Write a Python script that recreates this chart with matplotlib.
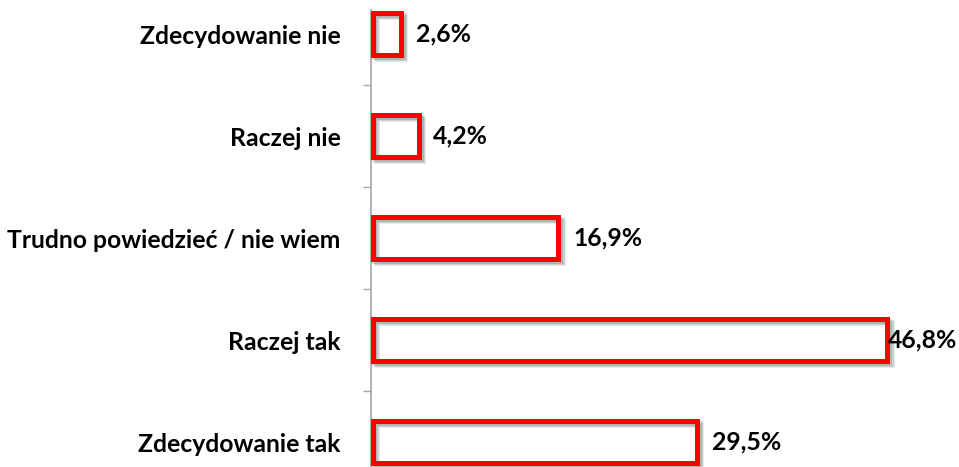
import matplotlib
matplotlib.use("Agg")
import matplotlib.pyplot as plt
import matplotlib.patheffects as pe

categories = ["Zdecydowanie nie", "Raczej nie", "Trudno powiedzieć / nie wiem",
              "Raczej tak", "Zdecydowanie tak"]
values = [2.6, 4.2, 16.9, 46.8, 29.5]
value_labels = ["2,6%", "4,2%", "16,9%", "46,8%", "29,5%"]

W, H = 959, 467
fig = plt.figure(figsize=(W / 100, H / 100), dpi=100)
fig.patch.set_facecolor("white")
ax = fig.add_axes([371 / W, 0, 1 - 371 / W, (H - 10) / H])

FONT = "Lato"
FS = 17.8
red = "#ff0000"
lw_px = 5.0
lw_pt = lw_px * 72 / 100

pos = list(range(len(categories)))
bars = ax.barh(pos, values, height=0.41, left=0, facecolor="none",
               edgecolor=red, linewidth=lw_pt, zorder=3)
for b in bars:
    b.set_joinstyle("miter")
    b.set_path_effects([
        pe.SimpleLineShadow(offset=(3.0, -3.0), shadow_color="#000000", alpha=0.08),
        pe.SimpleLineShadow(offset=(2.2, -2.2), shadow_color="#000000", alpha=0.12),
        pe.SimpleLineShadow(offset=(1.4, -1.4), shadow_color="#000000", alpha=0.12),
        pe.Normal(),
    ])

scale = (887.5 - 372.5) / 46.8  # px per unit
ax.set_xlim(-1.5 / scale, (W - 372.5) / scale)
ax.set_ylim((H - 34) / 102.0, (10 - 34) / 102.0)

ax.set_yticks(pos)
ax.set_yticklabels(categories, fontfamily=FONT, fontweight="bold", fontsize=FS,
                   color="black")
ax.set_yticks([p + 0.5 for p in pos[:-1]], minor=True)
ax.tick_params(axis="y", which="major", length=0, pad=22)
ax.tick_params(axis="y", which="minor", length=6, width=1, color="#a6a6a6")
ax.set_xticks([])
for s in ["top", "right", "bottom"]:
    ax.spines[s].set_visible(False)
ax.spines["left"].set_color("#a6a6a6")
ax.spines["left"].set_linewidth(1.2)

fig.canvas.draw()
renderer = fig.canvas.get_renderer()
off = (12 + lw_px / 2) * 0.72
for p, v, lab in zip(pos, values, value_labels):
    t = ax.annotate(lab, xy=(v, p), xytext=(off, 0),
                    textcoords="offset points", ha="left", va="center",
                    fontfamily=FONT, fontweight="bold", fontsize=FS, color="black",
                    annotation_clip=False)
    bb = t.get_window_extent(renderer)
    if bb.x1 > W - 2:
        shift = (bb.x1 - (W - 2)) * 0.72
        t.set_position((off - shift, 0))

fig.savefig("out.png", dpi=100, facecolor="white")
